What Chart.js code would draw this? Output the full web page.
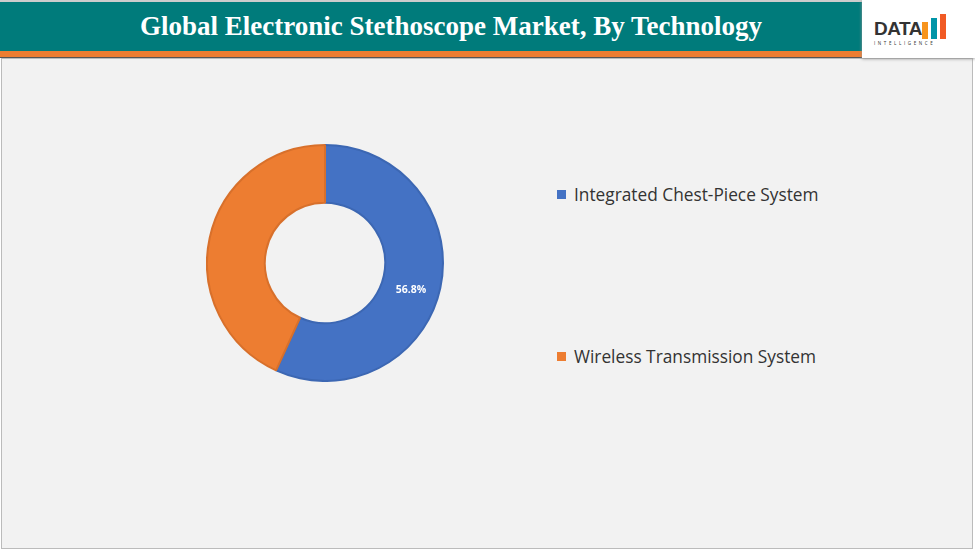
<!DOCTYPE html>
<html><head><meta charset="utf-8">
<script src="https://cdn.jsdelivr.net/npm/chart.js@4"></script>
<style>
body{margin:0;width:975px;height:549px;background:#fff;position:relative;overflow:hidden;font-family:"Open Sans",sans-serif}
#hdr{position:absolute;left:0;top:0;width:862px;height:51px;background:#007b7b;border-top:2px solid #ccc;box-sizing:border-box}
#hdr div{color:#fff;font-family:"Liberation Serif",serif;font-weight:bold;font-size:27px;text-align:center;line-height:48px;padding-left:40px}
#orng{position:absolute;left:0;top:51px;width:862px;height:6px;background:#ed7d31;border-bottom:1px solid #555}
#logo{position:absolute;left:862px;top:0;width:113px;height:58px;background:#fff;box-shadow:0 1px 3px #999}
#panel{position:absolute;left:1px;top:58px;width:970px;height:489px;background:#f2f2f2;border:1px solid #bbb}
#cw{position:absolute;left:206px;top:144px;width:238px;height:238px}
.lg{position:absolute;left:557px;font-size:17.3px;color:#333;display:flex;align-items:center}
.lg span{display:inline-block;width:9px;height:9px;margin-right:8px}
</style></head><body>
<div id="panel"></div>
<div id="hdr"><div>Global Electronic Stethoscope Market, By Technology</div></div>
<div id="orng"></div>
<div id="logo"><div style="position:absolute;left:12px;top:18px;font-family:'Liberation Sans';font-weight:bold;font-size:19px;color:#333;letter-spacing:-0.5px">DATA</div>
<div style="position:absolute;left:60px;top:22px;width:6px;height:17px;background:#f7941d"></div>
<div style="position:absolute;left:69px;top:18px;width:6px;height:21px;background:#0095a8"></div>
<div style="position:absolute;left:78px;top:14px;width:6px;height:25px;background:#f15a24"></div>
<div style="position:absolute;left:12px;top:40px;font-size:4.5px;letter-spacing:2.6px;color:#333">INTELLIGENCE</div></div>
<div id="cw"><canvas id="c"></canvas></div>
<div id="legend"></div>
<script>
const categories=["Integrated Chest-Piece System","Wireless Transmission System"];
const values=[56.8,43.2];
const labelsShown=["56.8%",""];
const colors=["#4472c4","#ed7d31"];
const borders=["#3c67b3","#d8702b"];
const legendTops=[183,345];
const lg=document.getElementById('legend');
categories.forEach((c,i)=>{const d=document.createElement('div');d.className='lg';d.style.top=legendTops[i]+'px';d.innerHTML='<span style="background:'+colors[i]+'"></span>'+c;lg.appendChild(d);});
const lblPlugin={id:'lbl',afterDatasetsDraw(ch){const ctx=ch.ctx;ch.getDatasetMeta(0).data.forEach((a,i)=>{if(!labelsShown[i])return;const p=a.tooltipPosition();ctx.save();ctx.fillStyle='#fff';ctx.font='bold 10.5px "Open Sans"';ctx.textAlign='center';ctx.textBaseline='middle';ctx.fillText(labelsShown[i],p.x-1,p.y+8);ctx.restore();});}};
new Chart(document.getElementById('c'),{type:'doughnut',data:{labels:categories,datasets:[{data:values,backgroundColor:colors,borderColor:borders,borderWidth:2}]},
options:{responsive:true,maintainAspectRatio:false,animation:false,cutout:'51%',layout:{padding:0},plugins:{legend:{display:false},tooltip:{enabled:false}}},plugins:[lblPlugin]});
</script></body></html>
